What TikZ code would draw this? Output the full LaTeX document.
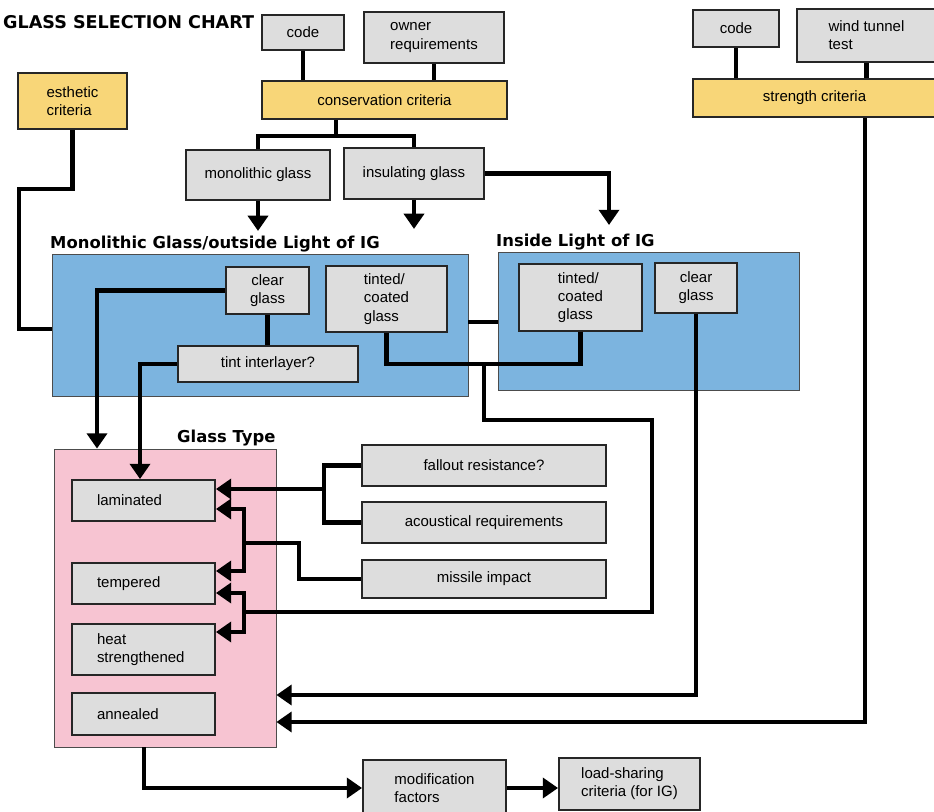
\documentclass[tikz,border=0pt]{standalone}
\usepackage{fontspec}
\setmainfont{Liberation Sans}
\newfontfamily\headfont{DejaVu Sans}
\usetikzlibrary{arrows.meta, positioning, calc}
\definecolor{boxgray}{RGB}{221,221,221}
\definecolor{critcol}{RGB}{248,214,120}
\definecolor{monocol}{RGB}{124,180,223}
\definecolor{typecol}{RGB}{247,196,210}

\begin{document}
\begin{tikzpicture}[
  x=0.3mm, y=-0.3mm,
  font=\fontsize{12.8}{15.5}\selectfont,
  dims/.style 2 args={minimum width=#1*0.3mm, minimum height=#2*0.3mm},
  gbox/.style={draw=black!85, line width=1.6pt, fill=boxgray, inner sep=0pt, align=center},
  crit/.style={gbox, fill=critcol},
  lbox/.style={gbox, align=left},
  tbox/.style={gbox, align=left, text width=93*0.3mm},
  panel/.style={draw=black!70, line width=0.7pt, inner sep=0pt},
  head/.style={font=\headfont\bfseries\fontsize{14}{16}\selectfont, anchor=west, inner sep=0pt},
  link/.style={line width=3.6pt},
  arr/.style={line width=3.6pt, -{Triangle[length=13pt, width=17pt]}}
]
  \useasboundingbox (0,0) rectangle (934,812);

  % panels
  \node[panel, fill=monocol, dims={416}{142}] (monoPanel) at (260,325) {};
  \node[panel, fill=monocol, dims={301}{138}] (insidePanel) at (648.5,321) {};
  \node[panel, fill=typecol, dims={222}{298}] (typePanel) at (165,598) {};

  % headings
  \node[head, font=\headfont\bfseries\fontsize{15}{17}\selectfont] (title) at (3,22) {GLASS SELECTION CHART};
  \node[head] (monoHead) at (50,244) {Monolithic Glass/outside Light of IG};
  \node[head] (insideHead) at (496,242) {Inside Light of IG};
  \node[head] (typeHead) at (177,438) {Glass Type};

  % criteria
  \node[gbox, dims={82}{35}] (code1) at (303,32.5) {code};
  \node[lbox, dims={140}{51}] (owner) at (434,37.5) {owner\\requirements};
  \node[crit, dims={245}{38}] (cons) at (384.5,100) {conservation criteria};
  \node[crit, align=left, dims={109}{56}] (esthetic) at (72.5,101) {esthetic\\criteria};
  \node[gbox, dims={144}{50}] (mono) at (258,175) {monolithic glass};
  \node[gbox, dims={140}{51}] (insul) at (414,173.5) {insulating glass};
  \node[gbox, dims={86}{37}] (code2) at (736,28.5) {code};
  \node[lbox, dims={139}{53}] (wind) at (866.5,35.5) {wind tunnel\\test};
  \node[crit, dims={243}{38}] (strength) at (814.5,98) {strength criteria};

  % lights
  \node[gbox, dims={83}{47}] (clear1) at (267.5,290.5) {clear\\glass};
  \node[lbox, dims={121}{66}] (tinted1) at (386.5,299) {tinted/\\coated\\glass};
  \node[gbox, dims={180}{36}] (tint) at (268,364) {tint interlayer?};
  \node[lbox, dims={123}{67}] (tinted2) at (580.5,297.5) {tinted/\\coated\\glass};
  \node[gbox, dims={82}{50}] (clear2) at (696,288) {clear\\glass};

  % glass type
  \node[tbox, dims={143}{41}] (laminated) at (143.5,500.5) {laminated};
  \node[tbox, dims={143}{41}] (tempered) at (143.5,583.5) {tempered};
  \node[tbox, dims={143}{51}] (heat) at (143.5,649.5) {heat\\strengthened};
  \node[tbox, dims={143}{42}] (annealed) at (143.5,714) {annealed};
  \node[gbox, dims={244}{41}] (fallout) at (484,465.5) {fallout resistance?};
  \node[gbox, dims={244}{41}] (acoust) at (484,522.5) {acoustical requirements};
  \node[gbox, dims={244}{38}] (missile) at (484,579) {missile impact};
  \node[lbox, dims={143}{56}] (modif) at (434.5,788) {modification\\factors};
  \node[lbox, dims={141}{52}] (loadsh) at (629.5,784) {load-sharing\\criteria (for IG)};

  % connectors
  \coordinate (split) at (336,136);
  \draw[link] (code1.south) -- (code1.south |- cons.north);
  \draw[link] (owner.south) -- (owner.south |- cons.north);
  \draw[link] (336,0 |- cons.south) -- (split);
  \draw[link] (mono.north) |- (split) -| (insul.north);
  \draw[arr] (mono.south) -- ++(0,30);
  \draw[arr] (insul.south) -- ++(0,29);
  \draw[arr] (insul.east) -| (609,225);

  \draw[link] (code2.south) -- (code2.south |- strength.north);
  \draw[link] (wind.south) -- (wind.south |- strength.north);
  \draw[arr] (865,0 |- strength.south) |- (typePanel.east |- 0,722);
  \draw[arr] (clear2.south) |- (typePanel.east |- 0,695);

  \draw[link] (esthetic.south) |- (19,189) |- (monoPanel.west |- 0,329);
  \draw[link] (monoPanel.east |- 0,322) -- (insidePanel.west |- 0,322);
  \draw[arr] (clear1.west) -| (97,0 |- typePanel.north);
  \draw[link] (clear1.south) -- (clear1.south |- tint.north);
  \draw[arr] (tint.west) -| (140,0 |- laminated.north);

  \coordinate (igsplit) at (484,364);
  \coordinate (htjoin) at (244,612);
  \draw[link] (tinted2.south) |- (igsplit) -| (tinted1.south);
  \draw[link] (igsplit) |- (652,420) |- (htjoin);
  \draw[arr] (htjoin) |- (tempered.east |- 0,593);
  \draw[arr] (htjoin) |- (heat.east |- 0,632);

  \coordinate (fajoin) at (324,489);
  \draw[link] (fallout.west) -| (324,0 |- acoust.west) -- (acoust.west);
  \draw[arr] (fajoin) -- (laminated.east |- fajoin);

  \coordinate (mijoin) at (244,543);
  \draw[link] (missile.west) -| (299,543) -- (mijoin);
  \draw[arr] (mijoin) |- (laminated.east |- 0,509);
  \draw[arr] (mijoin) |- (tempered.east |- 0,571);

  \draw[arr] (144,0 |- typePanel.south) |- (modif.west);
  \draw[arr] (modif.east) -- (modif.east -| loadsh.west);
\end{tikzpicture}
\end{document}
